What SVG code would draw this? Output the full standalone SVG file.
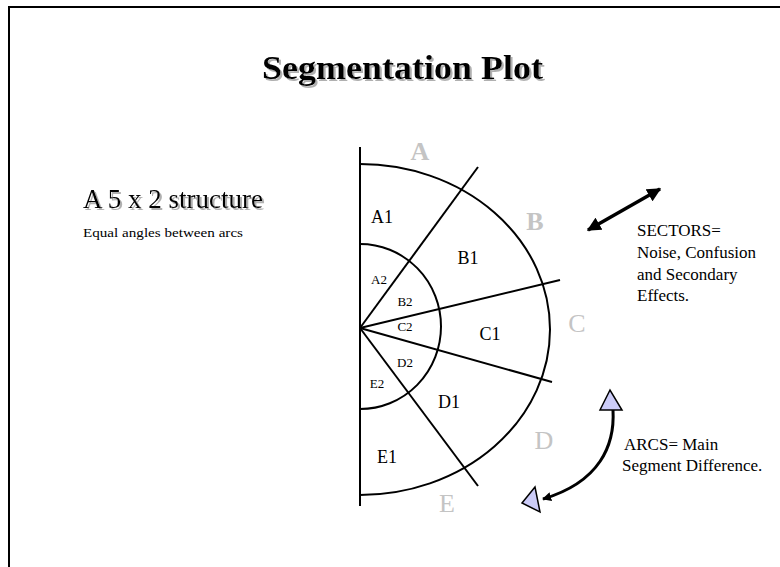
<svg xmlns="http://www.w3.org/2000/svg" width="780" height="567" viewBox="0 0 780 567">
<defs>
<style>
.t{font-family:"Liberation Serif","Times New Roman",serif;fill:#000}
.g{font-family:"Liberation Serif","Times New Roman",serif;fill:#c4c4c4;font-size:26px;text-anchor:middle}
.lbl{font-size:18px;text-anchor:middle}
.sm{font-size:13px;text-anchor:middle}
.ln{stroke:#000;stroke-width:2;fill:none}
.tri{fill:#ccccf8;stroke:#000;stroke-width:1.5}
</style>
<filter id="shadow" x="-5%" y="-20%" width="115%" height="150%">
<feDropShadow dx="2" dy="2" stdDeviation="0.3" flood-color="#b0b0b0" flood-opacity="1"/>
</filter>
<marker id="ah" viewBox="0 0 10 10" refX="9" refY="5" markerWidth="4" markerHeight="4" orient="auto-start-reverse" markerUnits="strokeWidth">
<path d="M0,0 L10,5 L0,10 Z" fill="#000"/>
</marker>
<marker id="sah" viewBox="0 0 10 10" refX="9" refY="5" markerWidth="3" markerHeight="3" orient="auto" markerUnits="strokeWidth">
<path d="M0,0 L10,5 L0,10 Z" fill="#000"/>
</marker>
</defs>
<rect width="780" height="567" fill="#fff"/>
<path d="M9,567 V7 H780" fill="none" stroke="#000" stroke-width="2"/>

<g id="title">
<text class="t" x="262" y="79" font-size="33" font-weight="bold" textLength="281" lengthAdjust="spacingAndGlyphs" filter="url(#shadow)">Segmentation Plot</text>
</g>

<g id="structure">
<text class="t" x="83" y="208" font-size="27" filter="url(#shadow)">A 5 x 2 structure</text>
<text class="t" x="83" y="237" font-size="13" textLength="160" lengthAdjust="spacingAndGlyphs">Equal angles between arcs</text>
</g>

<g id="connectors">
<line class="ln" x1="360" y1="147" x2="360" y2="506"/>
<path class="ln" d="M360,164 A190,165.5 0 0 1 360,495"/>
<path class="ln" d="M360,244 A81,82.5 0 0 1 360,409"/>
<line class="ln" x1="360" y1="328" x2="478" y2="167"/>
<line class="ln" x1="360" y1="328" x2="560" y2="280"/>
<line class="ln" x1="360" y1="328" x2="552" y2="382"/>
<line class="ln" x1="360" y1="328" x2="478" y2="486"/>
</g>

<g id="outer-labels">
<text class="g" x="420" y="160" font-weight="bold">A</text>
<text class="g" x="535" y="230" font-weight="bold">B</text>
<text class="g" x="577" y="332">C</text>
<text class="g" x="544" y="449">D</text>
<text class="g" x="447" y="512">E</text>
</g>

<g id="segments">
<text class="t lbl" x="382" y="223">A1</text>
<text class="t lbl" x="468" y="264">B1</text>
<text class="t lbl" x="490" y="340">C1</text>
<text class="t lbl" x="449" y="408">D1</text>
<text class="t lbl" x="387" y="463">E1</text>
<text class="t sm" x="379" y="284">A2</text>
<text class="t sm" x="405" y="306">B2</text>
<text class="t sm" x="405" y="331">C2</text>
<text class="t sm" x="405" y="367">D2</text>
<text class="t sm" x="377" y="388">E2</text>
</g>

<g id="sectors">
<line x1="588" y1="230" x2="660" y2="189" stroke="#000" stroke-width="3.5" marker-start="url(#ah)" marker-end="url(#ah)"/>
<text class="t" x="637" y="236" font-size="17">SECTORS=</text>
<text class="t" x="637" y="258" font-size="17">Noise, Confusion</text>
<text class="t" x="637" y="280" font-size="17">and Secondary</text>
<text class="t" x="637" y="301" font-size="17">Effects.</text>
</g>

<g id="arcs">
<path d="M613,410 C615,445 600,482 543,499" fill="none" stroke="#000" stroke-width="3" marker-end="url(#sah)"/>
<polygon class="tri" points="610,390 600,410 622,410"/>
<polygon class="tri" points="522,503 535,487 540,512"/>
<text class="t" x="624" y="450" font-size="17">ARCS= Main</text>
<text class="t" x="622" y="471" font-size="17">Segment Difference.</text>
</g>
</svg>
